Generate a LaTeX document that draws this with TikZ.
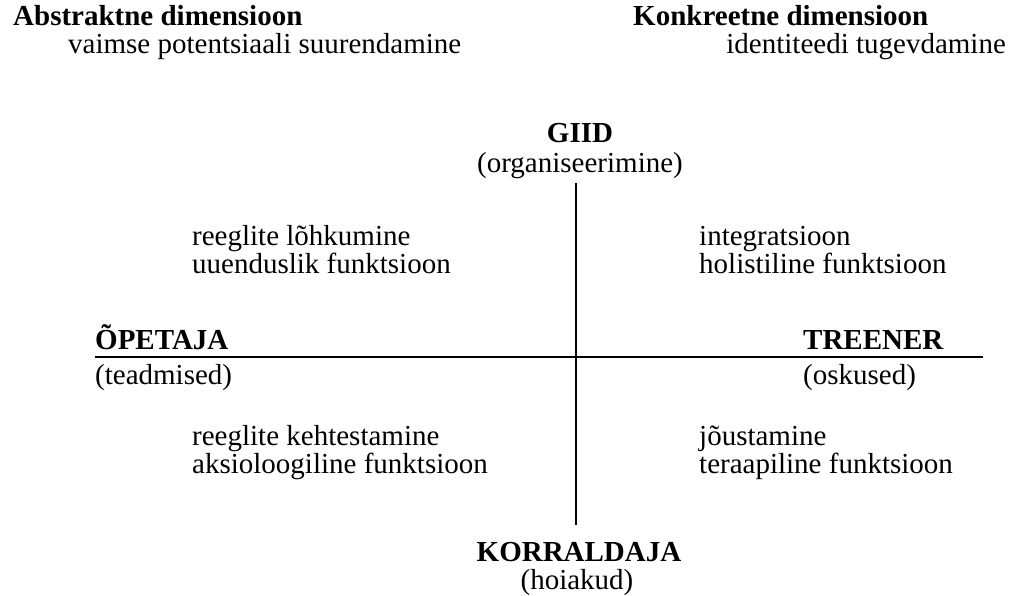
\documentclass[tikz,border=0pt]{standalone}
\usepackage{fontspec}
\setmainfont{Liberation Serif}
\begin{document}
\begin{tikzpicture}[x=1pt,y=-1pt,
  txt/.style={inner sep=0pt,font=\fontsize{29}{30}\selectfont},
  bf/.style={txt,font=\fontsize{29}{30}\selectfont\bfseries},
  axis/.style={line width=1.5pt}]
\useasboundingbox (0,0) rectangle (1016,595);
% headers
\node[bf,anchor=base west] (abs) at (13,25) {Abstraktne dimensioon};
\node[txt,anchor=base west] (absd) at (68,53) {vaimse potentsiaali suurendamine};
\node[bf,anchor=base west] (kon) at (633,25) {Konkreetne dimensioon};
\node[txt,anchor=base east] (kond) at (1006,53) {identiteedi tugevdamine};
% axes
\coordinate (vtop) at (576,183);
\coordinate (vbot) at (576,525);
\coordinate (hl) at (95,357);
\coordinate (hr) at (983,357);
\draw[axis] (vtop) -- (vbot);
\draw[axis] (hl) -- (hr);
% poles
\node[bf,anchor=base] (giid) at (580,142) {GIID};
\node[txt,anchor=base] (giidd) at (580,172) {(organiseerimine)};
\node[bf,anchor=base] (korr) at (579,561) {KORRALDAJA};
\node[txt,anchor=base] (korrd) at (577,589) {(hoiakud)};
\node[bf,anchor=base west] (opet) at (95,349) {ÕPETAJA};
\node[txt,anchor=base west] (opetd) at (95,384) {(teadmised)};
\node[bf,anchor=base west] (tree) at (803,349) {TREENER};
\node[txt,anchor=base west] (treed) at (803,384) {(oskused)};
% quadrants
\node[txt,anchor=base west] (q1a) at (192,245) {reeglite lõhkumine};
\node[txt,anchor=base west] (q1b) at (192,273) {uuenduslik funktsioon};
\node[txt,anchor=base west] (q2a) at (699,245) {integratsioon};
\node[txt,anchor=base west] (q2b) at (699,273) {holistiline funktsioon};
\node[txt,anchor=base west] (q3a) at (192,445) {reeglite kehtestamine};
\node[txt,anchor=base west] (q3b) at (192,473) {aksioloogiline funktsioon};
\node[txt,anchor=base west] (q4a) at (699,445) {jõustamine};
\node[txt,anchor=base west] (q4b) at (699,473) {teraapiline funktsioon};
\end{tikzpicture}
\end{document}
